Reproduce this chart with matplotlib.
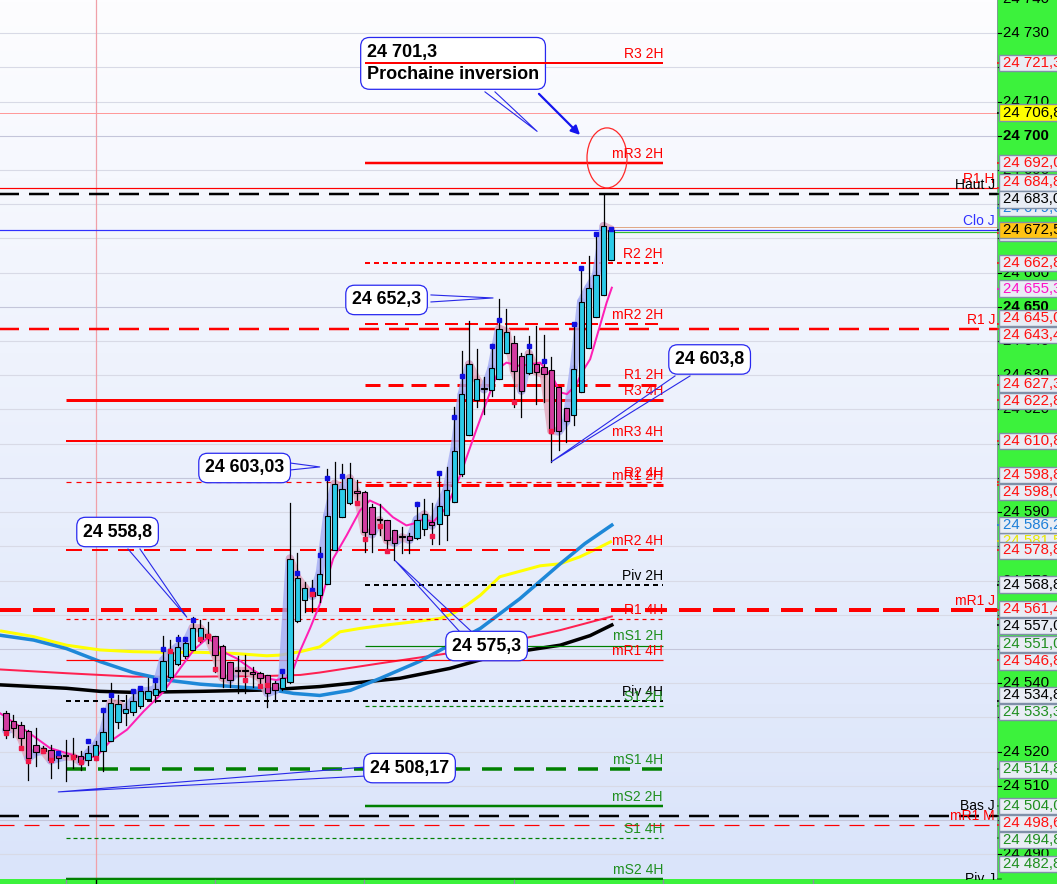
import numpy as np
import matplotlib
matplotlib.use("Agg")
import matplotlib.pyplot as plt
from matplotlib.patches import Rectangle, Ellipse
from matplotlib.lines import Line2D

plt.rcParams['font.family'] = ['Liberation Sans', 'DejaVu Sans']
plt.rcParams['lines.scale_dashes'] = False

# ---- data (bar index, price) ----
opens = [24531.2, 24528.8, 24527.8, 24525.9, 24522.0, 24521.0, 24520.5, 24519.1, 24519.1, 24519.1,
         24518.8, 24517.6, 24518.6, 24520.3, 24523.0, 24528.6, 24531.2, 24531.7, 24533.2, 24535.4,
         24536.6, 24537.6, 24541.9, 24545.5, 24548.0, 24549.7, 24552.9, 24554.4, 24553.9, 24551.0,
         24546.3, 24543.7, 24543.6, 24543.4, 24543.1, 24542.4, 24539.9, 24538.5, 24540.2, 24558.1,
         24564.3, 24566.5, 24565.9, 24568.9, 24578.8, 24588.6, 24592.6, 24596.3, 24595.8, 24591.5,
         24587.7, 24587.7, 24584.8, 24583.0, 24582.9, 24582.3, 24585.2, 24587.1, 24586.6, 24589.2,
         24593.0, 24601.0, 24612.5, 24622.8, 24626.0, 24625.7, 24629.0, 24636.4, 24639.5, 24635.5,
         24630.6, 24633.4, 24632.3, 24631.5, 24626.7, 24620.4, 24618.4, 24625.0, 24638.1, 24647.1,
         24653.4, 24663.7]
highs = [24531.8, 24530.7, 24528.5, 24526.4, 24526.9, 24521.5, 24522.0, 24520.1, 24523.4, 24523.9,
         24520.1, 24521.5, 24523.0, 24532.7, 24540.0, 24536.6, 24536.6, 24537.6, 24539.0, 24541.4,
         24541.4, 24553.9, 24552.6, 24554.1, 24553.1, 24559.4, 24558.5, 24558.0, 24553.9, 24551.2,
         24546.3, 24548.0, 24548.2, 24544.8, 24543.4, 24542.4, 24540.5, 24542.9, 24592.7, 24577.9,
         24569.6, 24570.1, 24579.8, 24602.5, 24604.6, 24604.1, 24604.4, 24599.5, 24596.3, 24592.4,
         24592.4, 24587.7, 24584.8, 24585.7, 24583.9, 24592.9, 24593.9, 24592.7, 24601.7, 24603.1,
         24620.6, 24637.1, 24645.9, 24637.6, 24629.6, 24639.1, 24652.4, 24649.5, 24641.5, 24636.6,
         24641.5, 24644.4, 24641.7, 24635.2, 24626.7, 24620.4, 24645.4, 24661.4, 24664.8, 24671.6,
         24683.1, 24673.1]
lows = [24524.0, 24524.4, 24521.5, 24511.8, 24515.7, 24520.0, 24512.3, 24515.2, 24511.3, 24515.2,
        24514.7, 24516.2, 24517.6, 24514.2, 24523.0, 24526.9, 24527.8, 24530.7, 24532.7, 24535.1,
        24534.6, 24537.6, 24541.4, 24545.3, 24547.3, 24549.7, 24552.1, 24551.6, 24543.4, 24539.0,
        24539.0, 24537.1, 24537.1, 24539.0, 24538.5, 24532.9, 24534.8, 24538.0, 24540.0, 24558.0,
        24560.9, 24560.9, 24563.8, 24568.9, 24578.8, 24588.6, 24592.4, 24592.4, 24578.4, 24578.4,
        24583.2, 24578.4, 24575.9, 24577.9, 24577.9, 24582.2, 24583.2, 24580.8, 24580.8, 24581.8,
        24593.0, 24600.5, 24612.5, 24620.6, 24618.7, 24624.0, 24629.0, 24636.4, 24620.6, 24617.7,
        24630.3, 24621.6, 24622.1, 24604.6, 24608.2, 24610.4, 24615.4, 24625.0, 24638.1, 24647.1,
        24653.4, 24663.7]
closes = [24526.2, 24526.9, 24524.0, 24518.1, 24519.9, 24520.2, 24517.4, 24518.1, 24518.6, 24518.4,
          24517.0, 24519.6, 24521.8, 24525.7, 24534.2, 24533.9, 24532.4, 24534.9, 24537.6, 24537.7,
          24538.2, 24546.6, 24549.0, 24550.7, 24551.6, 24556.2, 24556.0, 24553.6, 24548.2, 24541.6,
          24541.0, 24543.6, 24543.5, 24542.7, 24541.6, 24537.1, 24537.9, 24541.6, 24576.4, 24570.8,
          24567.9, 24565.5, 24572.0, 24588.9, 24598.3, 24596.8, 24599.9, 24595.6, 24584.2, 24583.5,
          24587.6, 24581.8, 24581.0, 24582.6, 24581.9, 24587.8, 24589.3, 24586.1, 24591.7, 24596.6,
          24607.9, 24624.4, 24633.2, 24628.9, 24625.9, 24632.0, 24643.6, 24642.7, 24631.3, 24625.5,
          24636.3, 24631.1, 24630.3, 24613.8, 24613.6, 24616.5, 24631.8, 24651.5, 24655.6, 24659.3,
          24673.6, 24672.6]

# averages, read at sample bars
pink_idx = [-0.8, 2.8, 5.9, 10.3, 12.1, 13.9, 16.2, 18.4, 21.1, 23.3, 25.1, 26.9, 27.8, 29.5, 30.9,
            33.1, 34.9, 36.2, 37.6, 38.5, 39.4, 40.7, 42.0, 43.8, 45.6, 47.4, 48.7, 50.1, 51.8, 53.6,
            54.5, 55.9, 57.2, 59.0, 60.8, 63.0, 64.8, 66.1, 67.0, 68.8, 71.5, 73.3, 74.2, 75.1, 76.4,
            77.0, 78.2, 79.5, 80.4, 81.1]
pink_val = [24531.2, 24525.9, 24521.0, 24518.1, 24518.6, 24522.9, 24526.4, 24531.7, 24537.5, 24544.3,
            24549.6, 24553.1, 24552.1, 24548.7, 24547.2, 24543.8, 24541.4, 24540.9, 24541.6, 24544.3,
            24549.6, 24556.0, 24563.0, 24576.4, 24583.2, 24590.5, 24593.4, 24592.0, 24588.5, 24586.1,
            24586.6, 24588.0, 24587.1, 24591.5, 24600.7, 24614.3, 24625.0, 24632.3, 24633.7, 24632.7,
            24633.7, 24628.9, 24625.0, 24624.5, 24627.4, 24630.5, 24634.7, 24644.4, 24651.2, 24655.6]
yellow_idx = [-0.8, 3.7, 8.1, 12.6, 17.0, 21.5, 26.0, 30.4, 34.9, 36.7, 39.4, 42.0, 44.7, 47.4, 50.1,
              54.5, 58.1, 59.8, 61.7, 63.5, 66.1, 71.5, 74.2, 76.8, 79.1, 81.1]
yellow_val = [24555.3, 24553.6, 24551.1, 24549.7, 24549.2, 24549.0, 24549.0, 24548.7, 24548.0, 24548.2,
              24549.2, 24550.6, 24555.0, 24556.0, 24556.8, 24557.9, 24558.9, 24560.3, 24562.8, 24565.7,
              24571.1, 24574.3, 24574.9, 24576.9, 24579.3, 24581.5]
blue_idx = [-0.8, 3.7, 8.1, 12.6, 17.0, 21.5, 26.0, 30.4, 34.9, 38.5, 42.0, 46.1, 50.1, 55.4, 63.5,
            68.8, 74.2, 77.5, 81.1]
blue_val = [24554.0, 24552.6, 24550.1, 24546.3, 24543.1, 24540.9, 24539.7, 24539.0, 24538.3, 24537.0,
            24536.4, 24537.9, 24541.4, 24546.4, 24556.0, 24564.7, 24574.9, 24580.8, 24586.2]
crimson_idx = [-0.8, 8.1, 17.0, 26.0, 34.9, 39.4, 42.0, 50.1, 63.5, 68.8, 74.2, 81.1]
crimson_val = [24544.0, 24542.9, 24541.9, 24541.9, 24542.1, 24542.4, 24543.1, 24545.8, 24550.1,
               24552.8, 24555.5, 24559.5]
black_idx = [-0.8, 8.1, 12.6, 17.0, 26.0, 34.9, 42.0, 52.7, 59.4, 66.1, 74.2, 78.2, 81.1]
black_val = [24539.5, 24538.5, 24537.6, 24537.3, 24537.6, 24538.0, 24539.0, 24541.4, 24544.3,
             24548.4, 24551.1, 24553.9, 24557.0]

top_mark_idx = [7, 11, 13, 14, 17, 18, 20, 21, 23, 24, 25, 37, 39, 41, 42, 43, 45, 55, 58, 60, 61,
                65, 66, 70, 72, 76, 77, 79, 81]
top_mark_val = [24519.6, 24523.2, 24532.2, 24536.6, 24537.6, 24538.7, 24540.9, 24550.0, 24552.8,
                24552.8, 24558.5, 24543.6, 24572.3, 24567.2, 24577.4, 24599.9, 24600.5, 24592.4,
                24601.4, 24617.9, 24629.8, 24638.6, 24646.2, 24638.6, 24634.2, 24645.1, 24661.4,
                24671.4, 24672.8]
bot_mark_idx = [0, 2, 3, 5, 6, 9, 10, 12, 22, 26, 27, 28, 32, 34, 35, 41, 47, 48, 50, 51, 57, 68, 73]
bot_mark_val = [24525.4, 24521.0, 24517.1, 24520.1, 24517.6, 24518.4, 24517.0, 24518.1, 24549.4,
                24552.9, 24553.9, 24544.2, 24541.0, 24539.3, 24539.5, 24566.0, 24592.6, 24582.0,
                24585.9, 24578.5, 24583.0, 24622.1, 24613.8]

# pivot levels
level_names = ['R3 2H', '', 'mR3 2H', 'R1 H', 'Haut J', 'Clo J', '', '', 'R2 2H', 'mR2 2H', 'R1 J',
               'R1 2H', 'R3 4H', 'mR3 4H', 'R2 4H', 'mR1 2H', 'mR2 4H', 'Piv 2H', 'mR1 J', 'R1 4H',
               'mS1 2H', 'mR1 4H', 'Piv 4H', 'S1 2H', 'mS1 4H', 'mS2 2H', 'Bas J', 'mR1 M', 'S1 4H',
               'mS2 4H']
level_values = [24721.3, 24706.8, 24692.0, 24684.8, 24683.0, 24672.5, 24673.4, 24671.9, 24662.8,
                24645.0, 24643.4, 24627.3, 24622.8, 24610.8, 24598.8, 24598.0, 24578.8, 24568.8,
                24561.4, 24558.8, 24551.0, 24546.8, 24534.8, 24533.3, 24514.8, 24504.0, 24501.3,
                24498.6, 24494.8, 24482.8]

# price scale labels
scale_values = [24721.3, 24706.8, 24692.0, 24684.8, 24683.0, 24672.5, 24662.8, 24655.3, 24645.0,
                24643.4, 24627.3, 24622.8, 24610.8, 24598.8, 24598.0, 24586.2, 24578.8, 24568.8,
                24561.4, 24557.0, 24551.0, 24546.8, 24534.8, 24533.3, 24514.8, 24504.0, 24498.6,
                24494.8, 24482.8]
scale_colors = ['r', 'k', 'r', 'r', 'k', 'k', 'r', 'm', 'r', 'r', 'r', 'r', 'r', 'r', 'r', 'b', 'r',
                'k', 'r', 'k', 'g', 'r', 'k', 'g', 'g', 'g', 'r', 'g', 'g']
hidden_values = [24679.0, 24671.7, 24581.5, 24558.8, 24501.3]
hidden_colors = ['b', 'r', 'y', 'r', 'k']

# callouts: text, tip (bar, price)
callout_texts = ['24 701,3\nProchaine inversion', '24 652,3', '24 603,8', '24 603,03', '24 558,8',
                 '24 575,3', '24 508,17']
callout_tips = [(71.1, 24701.3), (65.2, 24652.6), (73.0, 24604.7), (42.0, 24603.2), (24.2, 24559.3),
                (52.1, 24575.8), (7.0, 24508.2)]

# ---- layout ----
W, H = 1057, 884
PX = 3.42            # pixels per price point
X0, DX = 6.0, 7.47   # pixel of bar 0, pixels per bar
YMIN, YMAX = 24482.6, 24739.7


def px_x(px):
    return (px - X0) / DX


def px_v(py):
    return 24700 - (py - 135.9) / PX


def fmt(v, dec=1):
    s = f"{v:,.{dec}f}" if dec else f"{v:,.0f}"
    return s.replace(',', ' ').replace('.', ',')


RED, GRN, BLK = '#ff0000', '#008000', '#000000'
CYAN, MAG = '#2ccbe8', '#d23ca0'
GREEN_BG = '#3cf23c'
col_map = {'r': '#ff1010', 'k': '#000000', 'g': '#1f8f1f', 'b': '#1e7fd8', 'm': '#ff10c8', 'y': '#e8e800'}

p2 = 0.72  # points per pixel
FULL = (px_x(-5), px_x(1000))
S2H = (48, 88)
S4H = (8, 88)
level_style = {
    'R3 2H': (S2H, RED, 2, None), 'mR3 2H': (S2H, RED, 2.5, None),
    'R1 H': (FULL, RED, 1.2, None), 'Haut J': (FULL, BLK, 2.5, (20, 10)),
    'Clo J': (FULL, '#3030ff', 1.2, None), 'R2 2H': (S2H, RED, 2, (5, 4)),
    'mR2 2H': (S2H, RED, 2, (13, 7)), 'R1 J': (FULL, RED, 2.5, (20, 10)),
    'R1 2H': (S2H, RED, 3, (15, 8)), 'R3 4H': (S4H, RED, 3, None),
    'mR3 4H': (S4H, RED, 2, None), 'R2 4H': (S4H, RED, 1.2, (5, 5)),
    'mR1 2H': (S2H, RED, 3, (18, 6)), 'mR2 4H': (S4H, RED, 2, (16, 10)),
    'Piv 2H': (S2H, BLK, 2, (5, 4)), 'mR1 J': (FULL, RED, 4, (22, 12)),
    'R1 4H': (S4H, RED, 1.2, (4, 4)), 'mS1 2H': (S2H, GRN, 1.2, None),
    'mR1 4H': (S4H, RED, 1.2, None), 'Piv 4H': (S4H, BLK, 2, (5, 4)),
    'S1 2H': (S2H, GRN, 1.2, (4, 3)), 'mS1 4H': (S4H, GRN, 3.5, (20, 12)),
    'mS2 2H': (S2H, GRN, 2.5, None), 'Bas J': (FULL, BLK, 2.5, (20, 10)),
    'mR1 M': (FULL, RED, 1.2, (15, 10)), 'S1 4H': (S4H, GRN, 1.2, (4, 3)),
    'mS2 4H': (S4H, GRN, 2.5, None),
}
unnamed_style = [((FULL), '#ff9a9a', 1, None), ((81, FULL[1]), '#e0a888', 1, None),
                 ((81, FULL[1]), '#30c030', 1.2, None)]

fig = plt.figure(figsize=(W / 100, H / 100), dpi=100)
fig.patch.set_facecolor(GREEN_BG)
ax = fig.add_axes([0, 4.5 / H, 997 / W, 879.5 / H])
axr = fig.add_axes([997 / W, 4.5 / H, 60 / W, 879.5 / H])
x_lo, x_hi = px_x(0), px_x(997)
ax.set_xlim(x_lo, x_hi)
ax.set_ylim(YMIN, YMAX)
ax.set_axis_off()

# background gradient
grad = np.linspace(0, 1, 256)[:, None]
top_c, bot_c = np.array([253, 253, 255]) / 255, np.array([218, 228, 250]) / 255
img = top_c[None, None, :] * (1 - grad[..., None]) + bot_c[None, None, :] * grad[..., None]
ax.imshow(img, extent=[x_lo, x_hi, YMIN, YMAX], aspect='auto', zorder=0)

for v in range(24490, 24741, 10):
    ax.axhline(v, color='#c4c6da' if v % 50 == 0 else '#d8dae6', lw=0.8, zorder=1)
ax.axvline(12, color='#f0a0a8', lw=0.9, zorder=1)

# moving averages
ax.plot(yellow_idx, yellow_val, color='#ffff00', lw=3 * p2, zorder=2, solid_capstyle='butt')
ax.plot(crimson_idx, crimson_val, color='#ff2050', lw=2 * p2, zorder=2)
ax.plot(black_idx, black_val, color='#000000', lw=3.5 * p2, zorder=2)
ax.plot(blue_idx, blue_val, color='#1e88d8', lw=3.5 * p2, zorder=2)

# levels
k_un = 0
for name, v in zip(level_names, level_values):
    if name:
        (x0, x1), c, lw, dash = level_style[name]
    else:
        (x0, x1), c, lw, dash = unnamed_style[k_un]
        k_un += 1
    ln, = ax.plot([x0, x1], [v, v], color=c, lw=lw * p2, zorder=8 if name == 'R3 2H' else 3,
                  solid_capstyle='butt', dash_capstyle='butt')
    if dash:
        ln.set_dashes([d * p2 for d in dash])
    if name:
        tx = px_x(663) if x1 < 100 else px_x(995)
        tc = '#1f8f1f' if c == GRN else ('#3030ff' if name == 'Clo J' else c)
        ax.text(tx, v + 0.6, name, color=tc, fontsize=10, ha='right', va='bottom', zorder=6)
ax.text(px_x(995), YMIN - 2.0, 'Piv J', color=BLK, fontsize=10, ha='right', va='bottom',
        zorder=6, clip_on=True)

# swing ribbon
for i in range(len(closes) - 1):
    up = closes[i + 1] >= closes[i]
    ax.plot([i, i + 1], [closes[i], closes[i + 1]], color='#a4acf4' if up else '#e2a6bc',
            lw=6, alpha=0.8, zorder=4, solid_capstyle='round')
ax.plot(pink_idx, pink_val, color='#ff1fb4', lw=2 * p2, zorder=4.5)

# candles
for i, (o, h, l, c) in enumerate(zip(opens, highs, lows, closes)):
    ax.plot([i, i], [l, h], color='k', lw=0.9, zorder=5)
    ax.add_patch(Rectangle((i - 0.36, min(o, c)), 0.72, max(abs(c - o), 0.3),
                           fc=CYAN if c >= o else MAG, ec='k', lw=0.8, zorder=5.5))
ax.plot(top_mark_idx, top_mark_val, 's', color='#1010e0', ms=2.8, zorder=6)
ax.plot(bot_mark_idx, bot_mark_val, 's', color='#f01848', ms=2.8, zorder=6)

# callouts
box_pos = [(367, 63.5), (352, 300), (675, 359.5), (205, 468), (83, 532), (452, 646), (370, 768)]
ptr_base = [((485, 92), (495, 92)), ((431, 295), (431, 302)), ((675, 376), (690, 376)),
            ((290, 463), (290, 470)), ((128, 549), (140, 549)), ((460, 632), (472, 632)),
            ((365, 767), (365, 776))]
for txt, (bx, by), (b1, b2), (tx, tv) in zip(callout_texts, box_pos, ptr_base, callout_tips):
    ax.plot([px_x(b1[0]), tx, px_x(b2[0])], [px_v(b1[1]), tv, px_v(b2[1])],
            color='#2828e8', lw=0.8, zorder=7)
    ax.text(px_x(bx), px_v(by), txt, fontsize=13 if '\n' in txt else 12.8, fontweight='bold',
            ha='left', va='center', linespacing=1.4, zorder=7.5,
            bbox=dict(boxstyle='round,pad=0.35,rounding_size=0.5', fc='white', ec='#2828f0', lw=0.9))
ax.annotate('', xy=(px_x(582), px_v(137)), xytext=(px_x(537), px_v(92)),
            arrowprops=dict(arrowstyle='-|>', color='#1515ee', lw=1.6, mutation_scale=13), zorder=7)
ax.add_patch(Ellipse((px_x(607), px_v(158)), 40 / DX, 60 / PX, fill=False, ec='#ff2828', lw=0.9,
                     zorder=7))

# ---- right price scale ----
axr.set_facecolor(GREEN_BG)
axr.set_xlim(0, 1)
axr.set_ylim(YMIN, YMAX)
axr.set_xticks([])
axr.set_yticks([])
for s in axr.spines.values():
    s.set_visible(False)
axr.axvline(0.005, color='#8c8ca4', lw=1.2)
for v in range(24490, 24741, 10):
    axr.plot([0, 0.07], [v, v], color='k', lw=0.8, zorder=1)
    axr.text(0.1, v, fmt(v, 0), fontsize=10.8, va='center', ha='left', zorder=1,
             fontweight='bold' if v % 50 == 0 else 'normal')


def spread(vals, gap, lo, hi, n_iter=300):
    p = np.array(vals, float)
    order = np.argsort(-p)
    q = p[order]
    for _ in range(n_iter):
        for k in range(len(q) - 1):
            d = q[k] - q[k + 1]
            if d < gap:
                q[k] += (gap - d) / 2
                q[k + 1] -= (gap - d) / 2
        q = np.clip(q, lo, hi)
    out = np.empty_like(q)
    out[order] = q
    return out


bh = 16.5 / PX


def price_box(v, yc, ckey, z):
    c = col_map[ckey]
    fc = '#e9edf5'
    tc = c
    if abs(v - 24706.8) < 0.01:
        fc, tc = '#ffff00', '#000000'
    if abs(v - 24672.5) < 0.01:
        fc, tc = '#ffc414', '#000000'
        z += 1
    axr.plot([0, 0.07], [v, v], color=c if ckey != 'y' else '#d0d000', lw=1.2, zorder=z)
    axr.add_patch(Rectangle((0.04, yc - bh / 2), 1.2, bh, fc=fc, ec='#8090a8', lw=1, zorder=z))
    axr.text(0.1, yc, fmt(v), color=tc, fontsize=10.8, va='center', ha='left', zorder=z + 0.1)


for v, ck in zip(hidden_values, hidden_colors):
    price_box(v, v, ck, 2)
ypos = spread(scale_values, 5.0, YMIN + 4.6, YMAX - 2.6)
for v, yc, ck in zip(scale_values, ypos, scale_colors):
    price_box(v, yc, ck, 3)

# bottom time strip ticks
for px in [66, 215, 364, 514, 663, 813]:
    fig.add_artist(Line2D([px / W, px / W], [0, 4.5 / H], color='#8c8ca4', lw=1))
fig.add_artist(Line2D([95.5 / W, 95.5 / W], [0, 4.5 / H], color='#000000', lw=1))

fig.savefig('out.png', dpi=100, facecolor=fig.get_facecolor())
